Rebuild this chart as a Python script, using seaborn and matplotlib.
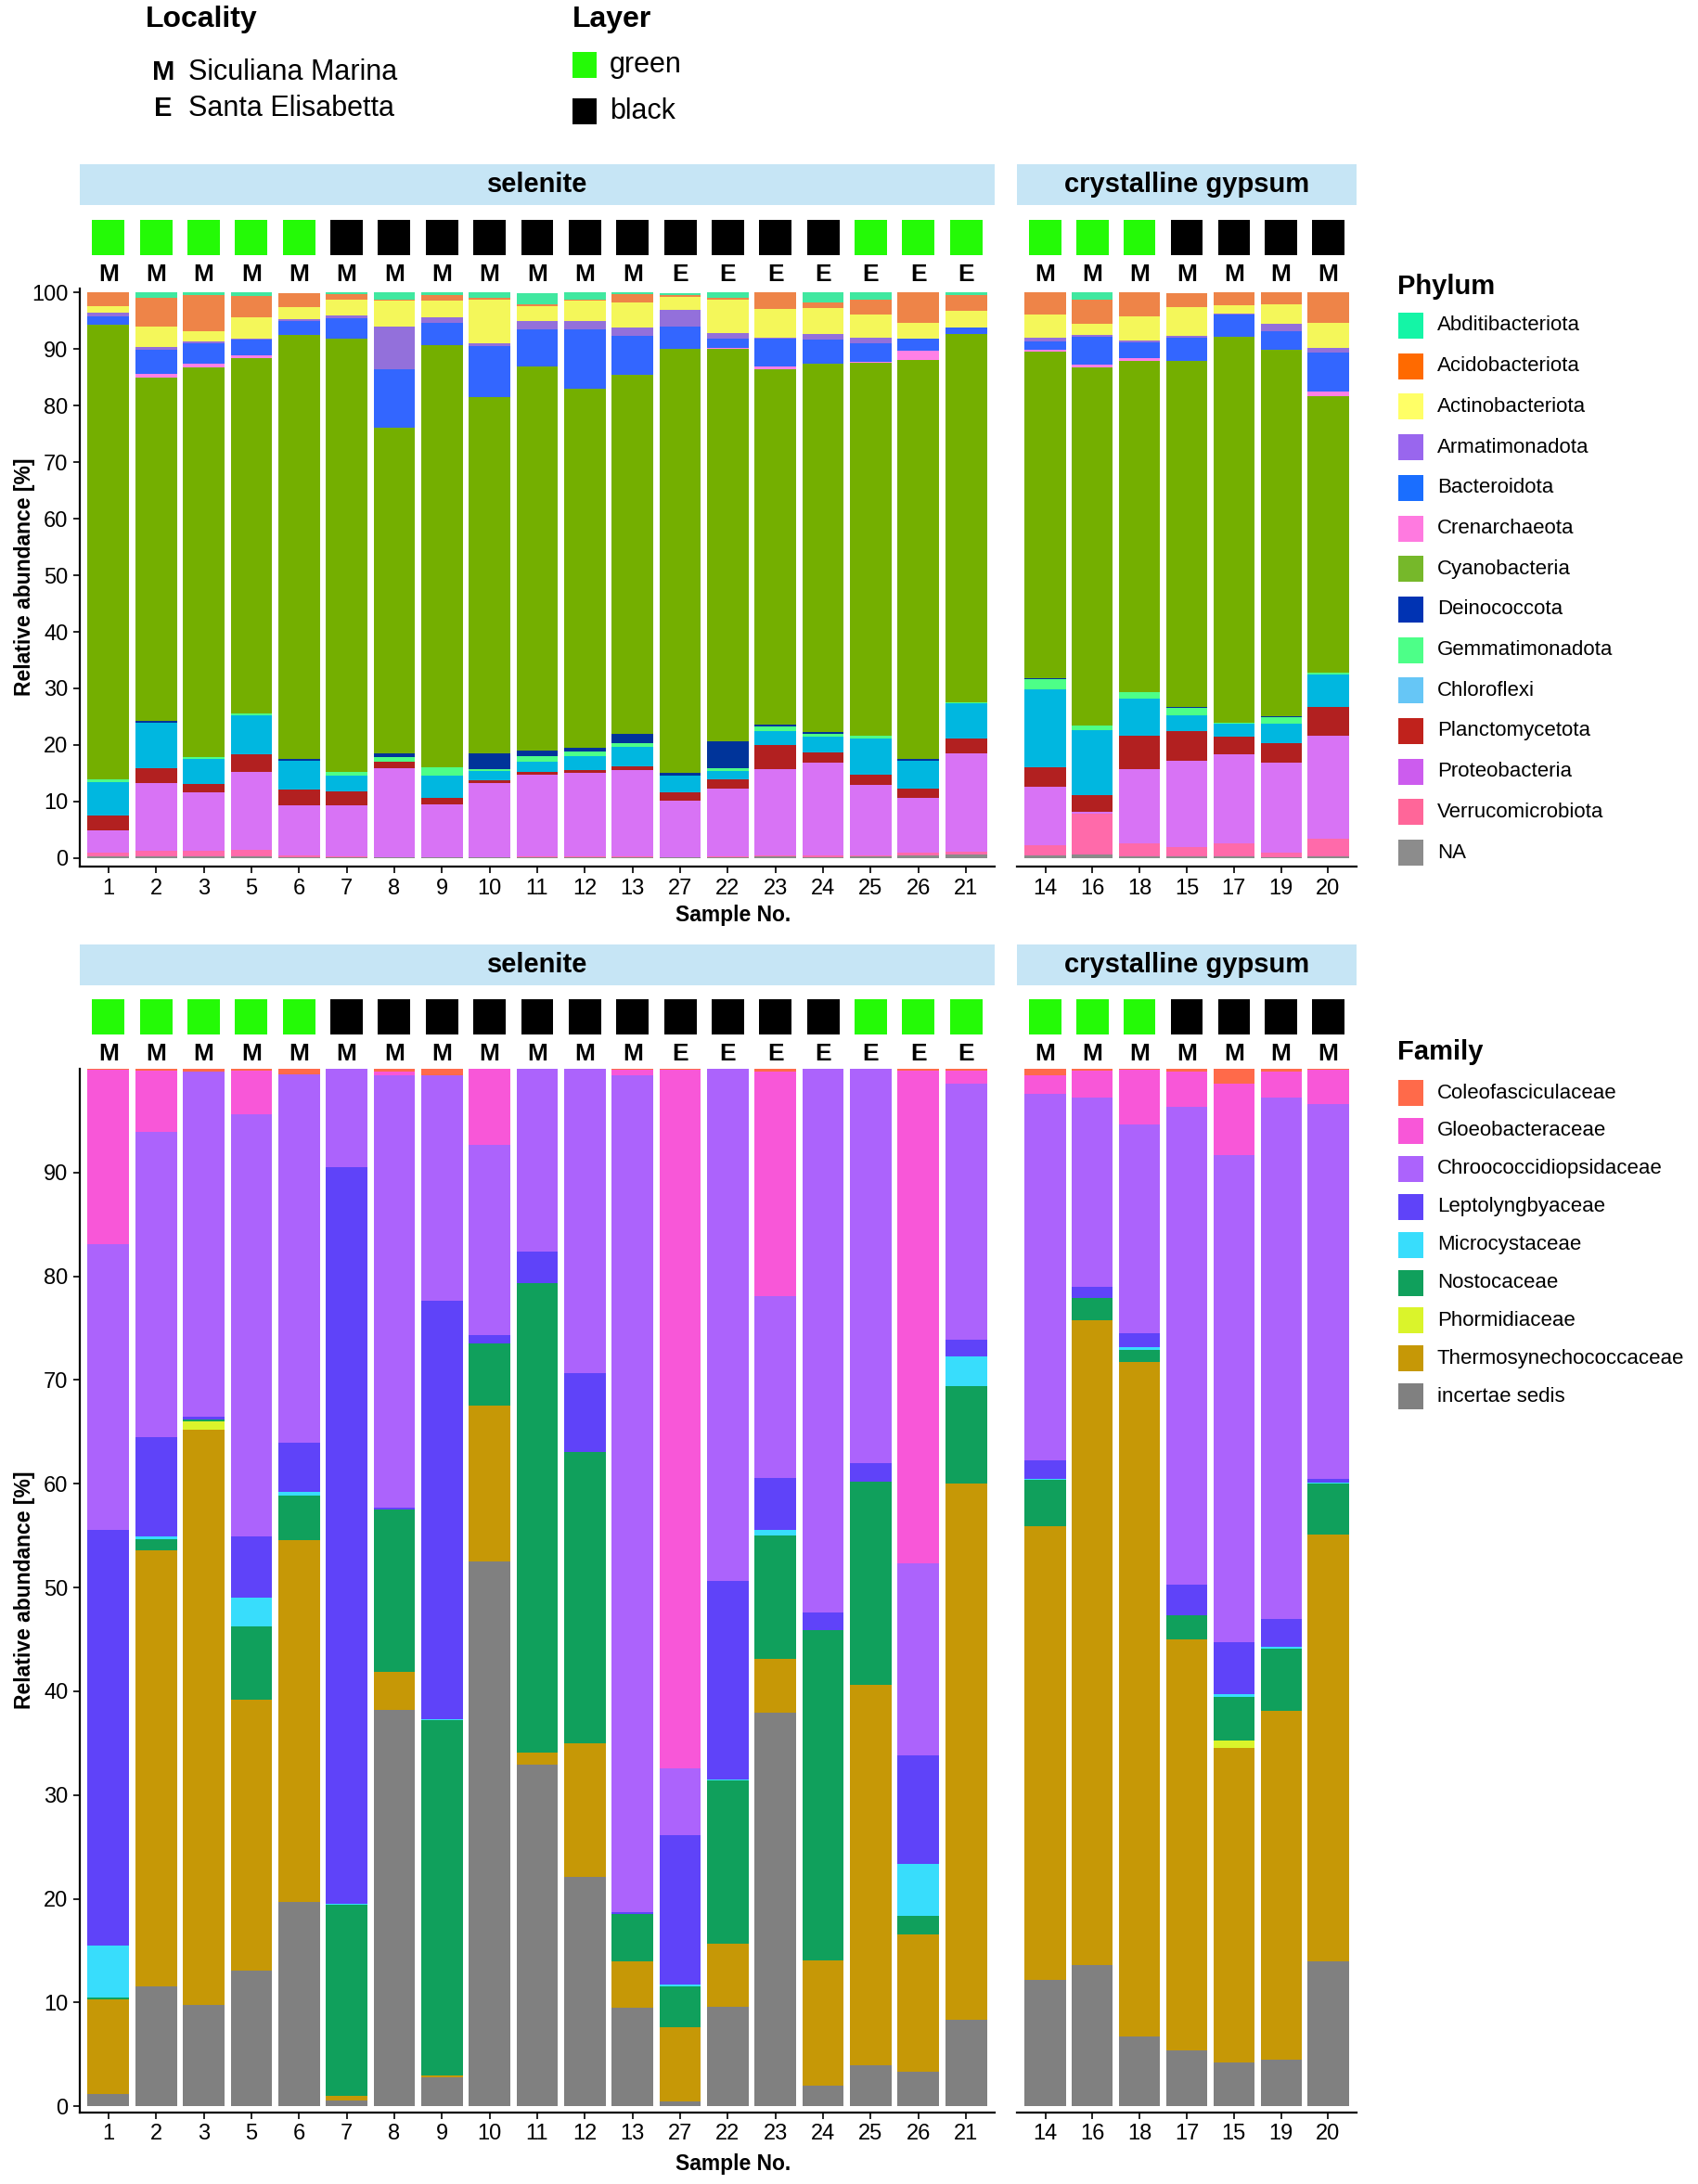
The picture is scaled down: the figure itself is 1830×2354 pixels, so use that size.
import numpy as np
import matplotlib
matplotlib.use("Agg")
import matplotlib.pyplot as plt
from matplotlib.patches import Rectangle
import seaborn as sns

# sample order of the two facets (top chart / bottom chart)
selenite = ["1", "2", "3", "5", "6", "7", "8", "9", "10", "11", "12", "13",
            "27", "22", "23", "24", "25", "26", "21"]
gypsum_top = ["14", "16", "18", "15", "17", "19", "20"]
gypsum_bottom = ["14", "16", "18", "17", "15", "19", "20"]

green_samples = ["1", "2", "3", "5", "6", "25", "26", "21", "14", "16", "18"]
e_samples = ["27", "22", "23", "24", "25", "26", "21"]

# phylum, % per sample in order selenite + gypsum_top
ph_na = [.3, .3, .3, .3, .2, .2, .2, .2, .2, .1, .1, .1, .1, .1, .3, .2, .3, .4, .6,
         .4, .7, .3, .3, .3, .2, .3]
ph_verruco = [.6, 1.0, 1.0, 1.1, .2, .1, 0, 0, 0, .2, .2, .2, .1, .2, .2, .2, .2, .6, .6,
              1.8, 7.2, 2.3, 1.7, 2.3, .8, 3.2]
ph_proteo = [4.0, 11.9, 10.3, 13.8, 8.9, 9.0, 15.7, 9.3, 13.1, 14.4, 14.7, 15.3, 10.0, 12.0,
             15.2, 16.4, 12.5, 9.7, 17.3, 10.4, .3, 13.1, 15.2, 15.7, 15.8, 18.1]
ph_plancto = [2.6, 2.7, 1.5, 3.2, 2.8, 2.5, 1.2, 1.2, .5, .5, .6, .6, 1.4, 1.6, 4.3, 1.9, 1.8,
              1.6, 2.6, 3.5, 3.0, 6.0, 5.2, 3.2, 3.6, 5.1]
ph_chloro = [5.9, 8.1, 4.4, 6.9, 5.1, 2.7, 0, 3.8, 1.6, 1.8, 2.4, 3.5, 2.9, 1.5, 2.4, 2.8, 6.3,
             4.9, 6.2, 13.8, 11.4, 6.5, 2.8, 2.3, 3.4, 5.8]
ph_gemm = [.5, 0, .3, .3, 0, .7, .8, 1.6, .3, 1.0, .8, .7, 0, .5, .9, .5, .5, 0, .2,
           1.7, .8, 1.2, 1.3, .2, 1.1, .3]
ph_deino = [0, .2, 0, 0, .4, 0, .6, 0, 2.8, 1.0, .7, 1.6, .6, 4.7, .3, .3, 0, .3, 0,
            .2, 0, 0, .2, 0, .2, 0]
ph_cyano = [80.4, 60.8, 69.0, 62.8, 74.9, 76.7, 57.6, 74.6, 63.0, 68.0, 63.5, 63.5, 75.0, 69.4,
            62.8, 65.1, 65.9, 70.5, 65.2, 57.7, 63.3, 58.5, 61.2, 68.2, 64.7, 48.8]
ph_crenar = [0, .6, .6, .5, 0, 0, 0, 0, 0, 0, 0, 0, 0, .2, .6, 0, .2, 1.7, 0,
             .3, .6, .5, 0, 0, 0, .9]
ph_bactero = [1.4, 4.2, 3.6, 2.7, 2.4, 3.5, 10.4, 4.0, 9.0, 6.5, 10.4, 6.9, 3.9, 1.7, 4.9, 4.3,
              3.4, 2.1, 1.1, 1.5, 4.8, 2.8, 4.1, 3.9, 3.3, 6.8]
ph_armat = [.7, .5, .3, .3, .4, .5, 7.5, .9, .5, 1.5, 1.6, 1.4, 3.0, 1.0, .1, .9, .9, 0, 0,
            .7, .4, .3, .3, .2, 1.4, .9]
ph_actino = [1.2, 3.7, 1.8, 3.7, 2.1, 2.9, 4.6, 3.0, 7.7, 2.6, 3.6, 4.5, 2.3, 5.9, 5.1, 4.7, 4.1,
             2.9, 3.0, 4.1, 2.0, 4.3, 5.2, 1.4, 3.4, 4.5]
ph_acido = [2.5, 5.0, 6.4, 3.8, 2.4, .9, .2, .9, .3, .3, .2, 1.4, .3, .3, 2.9, 1.0, 2.6, 5.3, 2.7,
            3.9, 4.2, 4.2, 2.4, 2.4, 2.1, 5.3]
ph_abditi = [0, 1.0, .5, .6, 0, .3, 1.2, .5, 1.0, 2.0, 1.2, .3, .3, .9, 0, 1.7, 1.3, 0, .5,
             0, 1.3, 0, 0, 0, 0, 0]

# family, % per sample in order selenite + gypsum_bottom
fa_incertae = [1.2, 11.6, 9.8, 13.1, 19.7, .6, 38.2, 2.8, 52.5, 32.9, 22.1, 9.5, .45, 9.6, 37.9,
               2.0, 4.0, 3.3, 8.3, 12.2, 13.6, 6.7, 5.4, 4.2, 4.5, 14.0]
fa_thermo = [9.1, 42.0, 55.4, 26.1, 34.9, .4, 3.7, .2, 15.0, 1.2, 12.9, 4.5, 7.15, 6.1, 5.2, 12.1,
             36.6, 13.3, 51.7, 43.7, 62.2, 65.0, 39.6, 30.3, 33.6, 41.1]
fa_phormid = [0, 0, .8, 0, 0, 0, 0, 0, 0, 0, 0, 0, 0, 0, 0, 0, 0, 0, 0,
              0, 0, 0, 0, .8, 0, 0]
fa_nostoc = [.2, 1.1, .2, 7.1, 4.3, 18.4, 15.6, 34.2, 6.0, 45.2, 28.1, 4.5, 4.0, 15.7, 11.9, 31.8,
             19.6, 1.8, 9.4, 4.5, 2.1, 1.2, 2.3, 4.2, 6.0, 4.9]
fa_microcyst = [5.0, .2, 0, 2.7, .3, .1, 0, .1, 0, 0, 0, 0, .15, .1, .6, 0, 0, 5.0, 2.9,
                .1, 0, .3, 0, .2, .2, .1]
fa_lepto = [40.1, 9.6, .3, 5.9, 4.8, 71.0, .2, 40.3, .8, 3.1, 7.6, .2, 14.4, 19.1, 5.0, 1.7, 1.8,
            10.4, 1.6, 1.8, 1.1, 1.3, 3.0, 5.0, 2.7, .4]
fa_chroo = [27.5, 29.4, 33.2, 40.7, 35.5, 9.5, 41.7, 21.8, 18.4, 17.6, 29.3, 80.7, 6.4, 49.4, 17.5,
            52.4, 38.0, 18.5, 24.7, 35.3, 18.2, 20.1, 46.0, 47.0, 50.2, 36.1]
fa_gloeo = [16.8, 5.9, 0, 4.2, 0, 0, .3, 0, 7.3, 0, 0, .5, 67.4, 0, 21.6, 0, 0, 47.5, 1.2,
            1.8, 2.6, 5.3, 3.4, 6.9, 2.5, 3.3]
fa_coleo = [.2, .2, .3, .2, .5, 0, .3, .6, 0, 0, 0, .1, .2, 0, .3, 0, 0, .2, .2,
            .6, .2, .1, .3, 1.4, .3, .1]

# names bottom-of-stack first
phylum_names = ["NA", "Verrucomicrobiota", "Proteobacteria", "Planctomycetota", "Chloroflexi",
                "Gemmatimonadota", "Deinococcota", "Cyanobacteria", "Crenarchaeota",
                "Bacteroidota", "Armatimonadota", "Actinobacteriota", "Acidobacteriota",
                "Abditibacteriota"]
phylum_values = [ph_na, ph_verruco, ph_proteo, ph_plancto, ph_chloro, ph_gemm, ph_deino,
                 ph_cyano, ph_crenar, ph_bactero, ph_armat, ph_actino, ph_acido, ph_abditi]
phylum_bar_colors = ["#8a8a8a", "#ff6aaa", "#d873f5", "#b22020", "#00b7e0", "#4dff88", "#00349a",
                     "#74af00", "#ff80e6", "#3366ff", "#9370db", "#f4f75a", "#ee8448", "#40e8a0"]
phylum_key_colors = ["#8c8c8c", "#ff6699", "#cc5cee", "#c0221c", "#66c6f6", "#4dff88", "#0033b3",
                     "#76b82a", "#ff7ae0", "#1a6eff", "#9966ee", "#ffff66", "#ff6a00", "#14f5a6"]

family_names = ["incertae sedis", "Thermosynechococcaceae", "Phormidiaceae", "Nostocaceae",
                "Microcystaceae", "Leptolyngbyaceae", "Chroococcidiopsidaceae",
                "Gloeobacteraceae", "Coleofasciculaceae"]
family_values = [fa_incertae, fa_thermo, fa_phormid, fa_nostoc, fa_microcyst, fa_lepto,
                 fa_chroo, fa_gloeo, fa_coleo]
family_colors = ["#808080", "#c69806", "#daf42b", "#10a05c", "#38ddfc", "#5f43f9", "#ac63fc",
                 "#f857d8", "#ff6a4a"]

W, H = 1831, 2354
sns.set_style("white")
plt.rcParams["font.family"] = ["Liberation Sans", "DejaVu Sans"]
for k in ("text.color", "axes.labelcolor", "xtick.color", "ytick.color", "axes.edgecolor"):
    plt.rcParams[k] = "black"

fig = plt.figure(figsize=(W / 100, H / 100), dpi=100)


def box(x0, y0, x1, y1):
    return [x0 / W, 1 - y1 / H, (x1 - x0) / W, (y1 - y0) / H]


def stacked(ax, samples, values, colors):
    tops = np.cumsum(np.array(values), axis=0)
    for k in range(len(values) - 1, -1, -1):
        sns.barplot(x=samples, y=tops[k], order=samples, color=colors[k], width=0.87,
                    saturation=1, errorbar=None, linewidth=0, ax=ax)
    ax.set_xlim(-0.6, len(samples) - 0.4)
    ax.set_xlabel("")
    ax.set_ylabel("")


def header(x0, x1, y_strip, y_sq, samples, title):
    strip = fig.add_axes(box(x0, y_strip, x1, y_strip + 44))
    strip.set_facecolor("#c6e5f5")
    strip.set_xticks([])
    strip.set_yticks([])
    for s in strip.spines.values():
        s.set_visible(False)
    strip.text(0.5, 0.5, title, ha="center", va="center", fontsize=21, fontweight="bold",
               transform=strip.transAxes)
    ann = fig.add_axes(box(x0, y_sq, x1, y_sq + 75))
    layers = ["green" if s in green_samples else "black" for s in samples]
    sns.barplot(x=samples, y=[1] * len(samples), hue=layers, order=samples,
                palette={"green": "#24fa06", "black": "#000000"}, dodge=False, width=0.68,
                saturation=1, linewidth=0, legend=False, ax=ann)
    for i, s in enumerate(samples):
        ann.text(i, -0.56, "E" if s in e_samples else "M", ha="center", va="center",
                 fontsize=19, fontweight="bold")
    ann.set_xlim(-0.6, len(samples) - 0.4)
    ann.set_ylim(1 - 75 / 38, 1)
    ann.axis("off")


def panel(y0, y1, ylim, yticks, values, colors, right_samples, y_strip, y_sq):
    axl = fig.add_axes(box(86, y0, 1072, y1))
    axr = fig.add_axes(box(1096, y0, 1462, y1))
    stacked(axl, selenite, [v[:19] for v in values], colors)
    stacked(axr, right_samples, [v[19:] for v in values], colors)
    for ax in (axl, axr):
        ax.set_ylim(*ylim)
        sns.despine(ax=ax)
        ax.spines["bottom"].set_linewidth(1.6)
        ax.spines["left"].set_linewidth(1.6)
        ax.tick_params(axis="both", direction="out", length=5, width=1.2, labelsize=17,
                       bottom=True, left=True, pad=4, colors="black")
    axl.set_yticks(yticks)
    axr.spines["left"].set_visible(False)
    axr.set_yticks([])
    header(86, 1072, y_strip, y_sq, selenite, "selenite")
    header(1096, 1462, y_strip, y_sq, right_samples, "crystalline gypsum")
    return axl


top = panel(311, 934, (-1.5, 100.7), range(0, 101, 10), phylum_values, phylum_bar_colors,
            gypsum_top, 177, 237)
bottom = panel(1152, 2277, (-0.6, 100), range(0, 91, 10), family_values, family_colors,
               gypsum_bottom, 1018, 1077)

# overlay in pixel coordinates for titles and keys
ov = fig.add_axes([0, 0, 1, 1])
ov.set_xlim(0, W)
ov.set_ylim(H, 0)
ov.axis("off")

for yc in (622, 1714):
    ov.text(27, yc, "Relative abundance [%]", rotation=90, ha="center", va="center",
            fontsize=16.5, fontweight="bold")
for yc in (987, 2333):
    ov.text(790, yc, "Sample No.", ha="center", va="center", fontsize=16.5, fontweight="bold")

# locality / layer keys
ov.text(157, 21, "Locality", ha="left", va="center", fontsize=23, fontweight="bold")
ov.text(176, 78, "M", ha="center", va="center", fontsize=21, fontweight="bold")
ov.text(203, 78, "Siculiana Marina", ha="left", va="center", fontsize=22)
ov.text(176, 117, "E", ha="center", va="center", fontsize=21, fontweight="bold")
ov.text(203, 117, "Santa Elisabetta", ha="left", va="center", fontsize=22)
ov.text(617, 21, "Layer", ha="left", va="center", fontsize=23, fontweight="bold")
for yc, name, col in ((70, "green", "#24fa06"), (120, "black", "#000000")):
    ov.add_patch(Rectangle((617, yc - 14), 26, 28, color=col, lw=0))
    ov.text(657, yc, name, ha="left", va="center", fontsize=22)


def key(title, y_title, y_first, step, names, colors):
    ov.text(1506, y_title, title, ha="left", va="center", fontsize=21, fontweight="bold")
    for i, (name, col) in enumerate(zip(names, colors)):
        yc = y_first + i * step
        ov.add_patch(Rectangle((1507, yc - 14), 27, 28, color=col, lw=0))
        ov.text(1549, yc, name, ha="left", va="center", fontsize=16)


key("Phylum", 309, 351, 43.7, phylum_names[::-1], phylum_key_colors[::-1])
key("Family", 1134, 1178, 40.9, family_names[::-1], family_colors[::-1])

fig.savefig("out.png", dpi=100)
